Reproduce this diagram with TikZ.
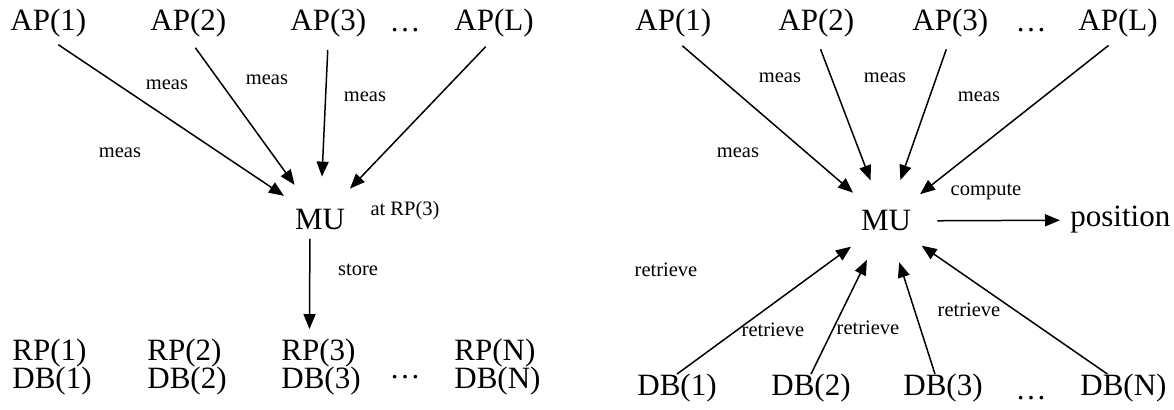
\documentclass[tikz,border=0pt]{standalone}
\usepackage{fontspec}
\setmainfont{Liberation Serif}
\usetikzlibrary{arrows.meta,positioning}

\begin{document}
\begin{tikzpicture}[x=0.5pt,y=-0.5pt,
                    main node/.style={inner sep=0pt,anchor=base west,font=\fontsize{15.5}{18}\selectfont},
                    dots node/.style={inner sep=0pt,font=\fontsize{15.5}{18}\selectfont},
                    mu node/.style={circle,inner sep=6pt,font=\fontsize{15.5}{18}\selectfont},
                    lbl/.style={inner sep=0pt,font=\fontsize{10.25}{12}\selectfont},
                    arr/.style={-{Triangle[length=7.5pt,width=6pt]},line width=0.75pt}]

  \fill[white] (0,0) rectangle (1174,410);
  \useasboundingbox (0,0) rectangle (1174,410);

  % left: measuring at a reference point
  \node[main node] (ap1) at (10,31) {AP(1)};
  \node[main node] (ap2) at (150,31) {AP(2)};
  \node[main node] (ap3) at (290,31) {AP(3)};
  \node[dots node] (apd) at (405,30) {\dots};
  \node[main node] (apL) at (454,31) {AP(L)};
  \node[mu node] (mu) at (320,220) {MU};
  \node[main node] (rp1) at (12,361) {RP(1)};
  \node[main node] (rp2) at (147,361) {RP(2)};
  \node[main node] (rp3) at (281,361) {RP(3)};
  \node[main node] (rpN) at (454,361) {RP(N)};
  \node[main node] (db1) at (12,389) {DB(1)};
  \node[main node] (db2) at (147,389) {DB(2)};
  \node[main node] (db3) at (281,389) {DB(3)};
  \node[dots node] (dbd) at (405,377) {\dots};
  \node[main node] (dbN) at (454,389) {DB(N)};

  \path[arr,shorten <=6pt]
    (ap1.south) edge (mu)
    (ap2.south) edge (mu)
    (ap3.south) edge (mu)
    (apL.south) edge (mu);
  \path[arr] ([xshift=-5pt]mu.center) edge[shorten <=9.5pt,shorten >=5pt] ([xshift=-4.5pt]rp3.north);

  \node[lbl] (m1) at (120,153) {meas};
  \node[lbl] (m2) at (167,85) {meas};
  \node[lbl] (m3) at (267,80) {meas};
  \node[lbl] (m4) at (365,97) {meas};
  \node[lbl] (at) at (405,211) {at RP(3)};
  \node[lbl] (st) at (358,270) {store};

  % right: positioning from the databases
  \node[main node] (ap1r) at (635,31) {AP(1)};
  \node[main node] (ap2r) at (778,31) {AP(2)};
  \node[main node] (ap3r) at (912,31) {AP(3)};
  \node[dots node] (apdr) at (1031,30) {\dots};
  \node[main node] (apLr) at (1078,31) {AP(L)};
  \node[mu node] (mur) at (886,221) {MU};
  \node[main node,anchor=west] (pos) at (1070,220) {position};
  \node[main node] (db1r) at (637,396) {DB(1)};
  \node[main node] (db2r) at (771,396) {DB(2)};
  \node[main node] (db3r) at (903,396) {DB(3)};
  \node[dots node] (dbdr) at (1031,398) {\dots};
  \node[main node] (dbNr) at (1080,396) {DB(N)};

  \path[arr,shorten <=6pt]
    (ap1r.south) edge (mur)
    (ap2r.south) edge (mur)
    (ap3r.south) edge (mur)
    (apLr.south) edge (mur);
  \path[arr]
    (db1r.north) edge (mur)
    (db2r.north) edge (mur)
    ([xshift=-4pt]db3r.north) edge (mur)
    ([xshift=-8pt]dbNr.north) edge (mur)
    (mur) edge[shorten <=4pt,shorten >=5pt] (pos);

  \node[lbl] (m1r) at (738,153) {meas};
  \node[lbl] (m2r) at (780,78) {meas};
  \node[lbl] (m3r) at (885,78) {meas};
  \node[lbl] (m4r) at (979,97) {meas};
  \node[lbl] (cp) at (986,192) {compute};
  \node[lbl] (r1) at (666,270) {retrieve};
  \node[lbl] (r2) at (773,330) {retrieve};
  \node[lbl] (r3) at (868,328) {retrieve};
  \node[lbl] (r4) at (969,310) {retrieve};
\end{tikzpicture}
\end{document}
